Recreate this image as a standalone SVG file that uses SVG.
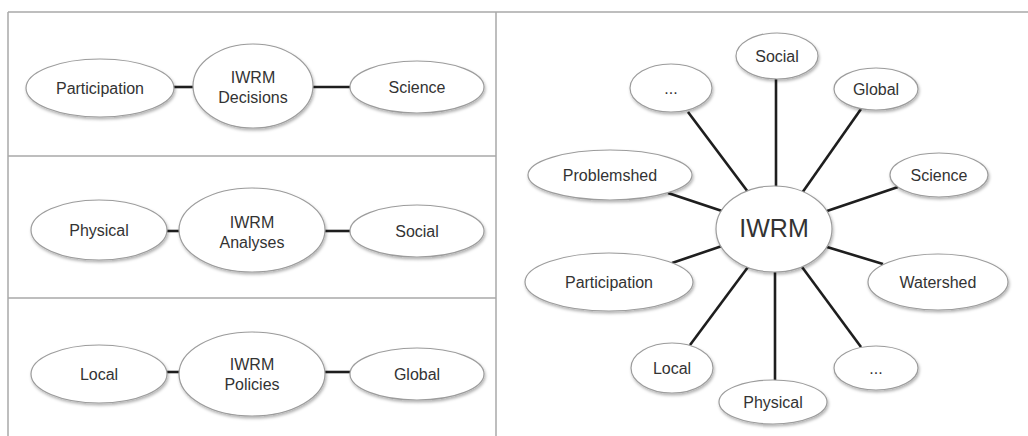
<svg xmlns="http://www.w3.org/2000/svg" width="1028" height="436" viewBox="0 0 1028 436">
  <style>
    .frame { stroke: #a8a8a8; stroke-width: 1.5; fill: none; }
    .node ellipse { fill: #ffffff; stroke: #9c9c9c; stroke-width: 1.2; filter: url(#shadow); }
    .node text { font-family: "Liberation Sans", Arial, sans-serif; font-size: 16px; fill: #333333; text-anchor: middle; }
    .node text.hub { font-size: 25px; }
    .links line { stroke: #1e1e1e; stroke-width: 2.6; stroke-linecap: butt; }
  </style>
  <defs>
    <filter id="shadow" x="-20%" y="-20%" width="140%" height="150%">
      <feDropShadow dx="1" dy="2" stdDeviation="1.4" flood-color="#000000" flood-opacity="0.3"/>
    </filter>
  </defs>
  <rect width="1028" height="436" fill="#ffffff"/>

  <!-- panel frame -->
  <g id="frame">
    <line class="frame" x1="8" y1="12" x2="1028" y2="12"/>
    <line class="frame" x1="8" y1="12" x2="8" y2="436"/>
    <line class="frame" x1="496" y1="12" x2="496" y2="436"/>
    <line class="frame" x1="8" y1="156" x2="496" y2="156"/>
    <line class="frame" x1="8" y1="298" x2="496" y2="298"/>
  </g>

  <!-- connectors -->
  <g id="connectors" class="links">
    <line x1="173" y1="87" x2="193" y2="87"/>
    <line x1="313" y1="87" x2="350" y2="87"/>
    <line x1="167" y1="231" x2="179" y2="231"/>
    <line x1="325" y1="231" x2="350" y2="231"/>
    <line x1="167" y1="372" x2="179" y2="372"/>
    <line x1="325" y1="372" x2="350" y2="372"/>

    <line x1="688" y1="112" x2="748" y2="192"/>
    <line x1="776" y1="78" x2="776" y2="187"/>
    <line x1="861" y1="109" x2="802" y2="193"/>
    <line x1="668" y1="193" x2="722" y2="211"/>
    <line x1="898" y1="187" x2="827" y2="211"/>
    <line x1="672" y1="263" x2="722" y2="246"/>
    <line x1="827" y1="247" x2="883" y2="264"/>
    <line x1="748" y1="267" x2="690" y2="345"/>
    <line x1="775" y1="272" x2="775" y2="380"/>
    <line x1="802" y1="267" x2="861" y2="347"/>
  </g>

  <!-- decisions row -->
  <g id="participation-1" class="node">
    <ellipse cx="100" cy="88" rx="74" ry="29"/>
    <text x="100" y="93.5">Participation</text>
  </g>
  <g id="iwrm-decisions" class="node">
    <ellipse cx="253" cy="86" rx="60" ry="42"/>
    <text x="253" y="83">IWRM</text>
    <text x="253" y="103">Decisions</text>
  </g>
  <g id="science-1" class="node">
    <ellipse cx="417" cy="87" rx="67" ry="26"/>
    <text x="417" y="92.5">Science</text>
  </g>

  <!-- analyses row -->
  <g id="physical-1" class="node">
    <ellipse cx="99" cy="230" rx="68" ry="30"/>
    <text x="99" y="235.5">Physical</text>
  </g>
  <g id="iwrm-analyses" class="node">
    <ellipse cx="252" cy="230" rx="73" ry="42"/>
    <text x="252" y="228">IWRM</text>
    <text x="252" y="248">Analyses</text>
  </g>
  <g id="social-1" class="node">
    <ellipse cx="417" cy="231" rx="67" ry="26"/>
    <text x="417" y="236.5">Social</text>
  </g>

  <!-- policies row -->
  <g id="local-1" class="node">
    <ellipse cx="99" cy="374" rx="68" ry="29"/>
    <text x="99" y="379.5">Local</text>
  </g>
  <g id="iwrm-policies" class="node">
    <ellipse cx="252" cy="374" rx="73" ry="42"/>
    <text x="252" y="370">IWRM</text>
    <text x="252" y="390">Policies</text>
  </g>
  <g id="global-1" class="node">
    <ellipse cx="417" cy="374" rx="67" ry="26"/>
    <text x="417" y="379.5">Global</text>
  </g>

  <!-- hub and spokes -->
  <g id="iwrm-hub" class="node">
    <ellipse cx="774" cy="229" rx="58" ry="43"/>
    <text class="hub" x="774" y="237">IWRM</text>
  </g>
  <g id="social-2" class="node">
    <ellipse cx="777" cy="56" rx="41" ry="23"/>
    <text x="777" y="61.5">Social</text>
  </g>
  <g id="more-1" class="node">
    <ellipse cx="671" cy="88" rx="41" ry="24"/>
    <text x="671" y="93.5">...</text>
  </g>
  <g id="global-2" class="node">
    <ellipse cx="876" cy="89" rx="42" ry="21"/>
    <text x="876" y="94.5">Global</text>
  </g>
  <g id="problemshed" class="node">
    <ellipse cx="610" cy="175" rx="82" ry="25"/>
    <text x="610" y="180.5">Problemshed</text>
  </g>
  <g id="science-2" class="node">
    <ellipse cx="939" cy="175" rx="49" ry="22"/>
    <text x="939" y="180.5">Science</text>
  </g>
  <g id="participation-2" class="node">
    <ellipse cx="609" cy="282" rx="84" ry="29"/>
    <text x="609" y="287.5">Participation</text>
  </g>
  <g id="watershed" class="node">
    <ellipse cx="938" cy="282" rx="70" ry="28"/>
    <text x="938" y="287.5">Watershed</text>
  </g>
  <g id="local-2" class="node">
    <ellipse cx="672" cy="368" rx="41" ry="25"/>
    <text x="672" y="373.5">Local</text>
  </g>
  <g id="physical-2" class="node">
    <ellipse cx="773" cy="402" rx="54" ry="22"/>
    <text x="773" y="407.5">Physical</text>
  </g>
  <g id="more-2" class="node">
    <ellipse cx="876" cy="368" rx="42" ry="22"/>
    <text x="876" y="373.5">...</text>
  </g>
</svg>
